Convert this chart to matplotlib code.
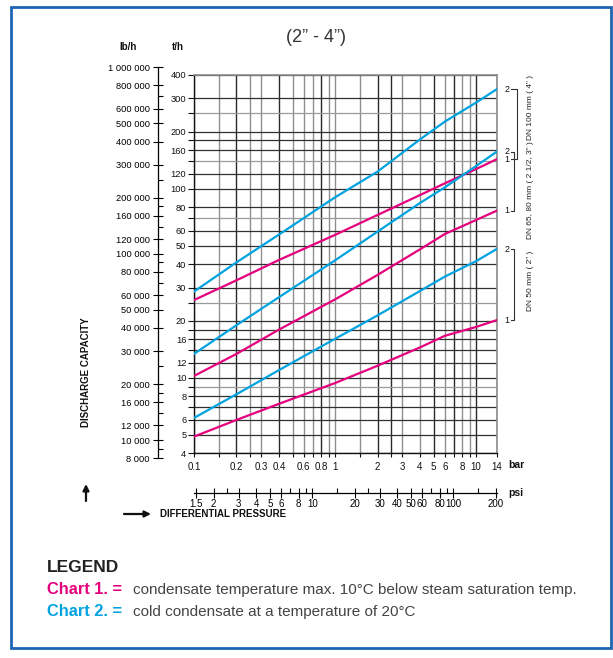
import matplotlib
matplotlib.use('Agg')
import matplotlib.pyplot as plt
from matplotlib.patches import Rectangle, FancyArrowPatch
from matplotlib.ticker import NullLocator, NullFormatter
from matplotlib.transforms import blended_transform_factory

plt.rcParams['font.family'] = ['Liberation Sans', 'DejaVu Sans']

# differential pressure (bar) where the curves were read
pressure = [0.1, 0.2, 0.4, 1, 2, 4, 6, 10, 14]
# discharge capacity (t/h); chart 2 = cold condensate, chart 1 = hot condensate
dn100_c2 = [28.6, 40.8, 57.2, 90, 123, 182, 226, 285, 335]
dn100_c1 = [25.8, 32.8, 42, 57, 72.6, 92.5, 106.7, 127, 143]
dn80_c2 = [13.4, 19.0, 26.7, 41.8, 59.3, 84, 101.6, 131.7, 156.8]
dn80_c1 = [10.25, 13.4, 18, 26, 35, 47.8, 57.6, 68.3, 76.5]
dn50_c2 = [6.15, 8.2, 11.0, 16.1, 21.4, 28.8, 34.3, 41.4, 48]
dn50_c1 = [4.9, 6.0, 7.3, 9.4, 11.6, 14.5, 16.7, 18.6, 20.2]

# grid / ticks
bar_grid = [0.1, 0.15, 0.2, 0.25, 0.3, 0.4, 0.5, 0.6, 0.7, 0.8, 0.9, 1,
            1.5, 2, 2.5, 3, 4, 5, 6, 7, 8, 9, 10, 14]
bar_labels = [0.1, 0.2, 0.3, 0.4, 0.6, 0.8, 1, 2, 3, 4, 5, 6, 8, 10, 14]
bar_dark = [0.2, 0.4, 0.8, 2, 2.5, 5, 7, 10]
th_grid = [4, 5, 6, 7, 8, 9, 10, 12, 14, 16, 18, 20, 25, 30, 40, 50, 60, 70,
           80, 100, 120, 140, 160, 180, 200, 250, 300, 400]
th_labels = [4, 5, 6, 8, 10, 12, 16, 20, 30, 40, 50, 60, 80, 100, 120, 160,
             200, 300, 400]
th_light = [9, 25, 70, 140, 250]
lb_major = [8000, 10000, 12000, 16000, 20000, 30000, 40000, 50000, 60000,
            80000, 100000, 120000, 160000, 200000, 300000, 400000, 500000,
            600000, 800000, 1000000]
lb_minor = [9000, 14000, 18000, 25000, 70000, 90000, 140000, 180000, 250000,
            700000]
psi_major = [1.5, 2, 3, 4, 5, 6, 8, 10, 20, 30, 40, 50, 60, 80, 100, 200]
psi_minor = [2.5, 7, 9, 15, 25, 70, 90, 150]
PSI_PER_BAR = 14.5038

MAGENTA = '#E5007D'
CYAN = '#00A3E0'

W, H = 613, 658
fig = plt.figure(figsize=(W / 100, H / 100), dpi=100)


def px(x, y):
    # pixel position (from top-left) -> figure fraction
    return x / W, 1 - y / H


# main chart
L, R, T, B = 194, 496.7, 74.7, 453.3
ax = fig.add_axes([L / W, 1 - B / H, (R - L) / W, (B - T) / H])
ax.set_xscale('log')
ax.set_yscale('log')
ax.set_xlim(0.1, 14)
ax.set_ylim(4, 400)

for v in bar_grid:
    c = '#2a2a2a' if v in bar_dark else '#8f8f8f'
    ax.axvline(v, color=c, lw=1.0, zorder=1)
for v in th_grid:
    c = '#9a9a9a' if v in th_light else '#303030'
    ax.axhline(v, color=c, lw=0.9, zorder=1)

for vals, col in [(dn100_c2, CYAN), (dn100_c1, MAGENTA), (dn80_c2, CYAN),
                  (dn80_c1, MAGENTA), (dn50_c2, CYAN), (dn50_c1, MAGENTA)]:
    ax.plot(pressure, vals, color=col, lw=1.6, zorder=3)

for s in ['left', 'bottom']:
    ax.spines[s].set_color('#111111')
    ax.spines[s].set_linewidth(1.0)
for s in ['top', 'right']:
    ax.spines[s].set_color('#8c8c8c')
    ax.spines[s].set_linewidth(1.2)

ax.set_yticks(th_grid)
ax.set_yticklabels([f'{v:g}' if v in th_labels else '' for v in th_grid])
ax.set_xticks(bar_grid)
ax.set_xticklabels([f'{v:g}' if v in bar_labels else '' for v in bar_grid])
ax.xaxis.set_minor_locator(NullLocator())
ax.yaxis.set_minor_locator(NullLocator())
ax.xaxis.set_minor_formatter(NullFormatter())
ax.yaxis.set_minor_formatter(NullFormatter())
ax.tick_params(axis='y', direction='out', length=4, width=0.8, pad=1.5,
               labelsize=6.7, colors='#111111')
ax.tick_params(axis='x', direction='out', length=3, width=0.8, pad=3,
               labelsize=7, colors='#111111')

# chart number brackets at the line ends
tr = blended_transform_factory(ax.transAxes, ax.transData)
brackets = [(dn100_c2[-1], dn100_c1[-1], 1.068),
            (dn80_c2[-1], dn80_c1[-1], 1.057),
            (dn50_c2[-1], dn50_c1[-1], 1.057)]
for top, bot, xv in brackets:
    ax.plot([1.046, xv, xv, 1.046], [top, top, bot, bot], transform=tr,
            color='#333333', lw=0.8, clip_on=False)
    ax.text(1.033, top, '2', transform=tr, ha='center', va='center',
            fontsize=6.5, color='#111111')
    ax.text(1.033, bot, '1', transform=tr, ha='center', va='center',
            fontsize=6.5, color='#111111')

fig.text(*px(531, 107), 'DN 100 mm ( 4" )', rotation=90, ha='center',
         va='center', fontsize=6, color='#222222')
fig.text(*px(531, 190), 'DN 65, 80 mm ( 2 1/2, 3" )', rotation=90,
         ha='center', va='center', fontsize=6, color='#222222')
fig.text(*px(531, 281), 'DN 50 mm ( 2" )', rotation=90, ha='center',
         va='center', fontsize=6, color='#222222')

# lb/h scale
axl = fig.add_axes([158 / W, 1 - 458.3 / H, 0.0001, (458.3 - 67.3) / H])
axl.set_yscale('log')
axl.set_ylim(8000, 1000000)
axl.patch.set_visible(False)
for s in ['top', 'right', 'bottom']:
    axl.spines[s].set_visible(False)
axl.spines['left'].set_linewidth(0.9)
axl.set_xticks([])
axl.set_yticks(lb_major)
axl.set_yticklabels([f'{v:,}'.replace(',', ' ') for v in lb_major])
axl.set_yticks(lb_minor, minor=True)
axl.yaxis.set_minor_formatter(NullFormatter())
axl.tick_params(which='major', direction='inout', length=7, width=0.8,
                pad=2.5, labelsize=6.7)
axl.tick_params(which='minor', direction='in', length=3.5, width=0.8)

# psi scale
axp = fig.add_axes([L / W, 1 - 492.7 / H, (R - L) / W, 0.0001])
axp.set_xscale('log')
axp.set_xlim(0.1 * PSI_PER_BAR, 14 * PSI_PER_BAR)
axp.patch.set_visible(False)
for s in ['top', 'right', 'left']:
    axp.spines[s].set_visible(False)
axp.spines['bottom'].set_linewidth(0.9)
axp.set_yticks([])
axp.set_xticks(psi_major)
axp.set_xticklabels([f'{v:g}' for v in psi_major])
axp.set_xticks(psi_minor, minor=True)
axp.xaxis.set_minor_formatter(NullFormatter())
axp.tick_params(which='major', direction='inout', length=7, width=0.8,
                pad=1, labelsize=7)
axp.tick_params(which='minor', direction='in', length=3.5, width=0.8)

# texts
fig.text(*px(316, 38), '(2\u201d - 4\u201d)', ha='center', va='center',
         fontsize=13, color='#333333')
fig.text(*px(128, 47), 'lb/h', ha='center', va='center', fontsize=7,
         fontweight='bold', color='#111111')
fig.text(*px(178, 47), 't/h', ha='center', va='center', fontsize=7,
         fontweight='bold', color='#111111')
fig.text(*px(508, 465), 'bar', ha='left', va='center', fontsize=7.5,
         fontweight='bold', color='#111111')
fig.text(*px(508, 493), 'psi', ha='left', va='center', fontsize=7.5,
         fontweight='bold', color='#111111')
fig.text(*px(86, 372), 'DISCHARGE CAPACITY', rotation=90, ha='center',
         va='center', fontsize=7, fontweight='bold', color='#111111')
fig.text(*px(160, 514), 'DIFFERENTIAL PRESSURE', ha='left', va='center',
         fontsize=7, fontweight='bold', color='#111111')
fig.add_artist(FancyArrowPatch(px(86, 501), px(86, 484),
                               transform=fig.transFigure, arrowstyle='-|>',
                               mutation_scale=9, lw=1.6, color='#111111',
                               shrinkA=0, shrinkB=0))
fig.add_artist(FancyArrowPatch(px(124, 514), px(151, 514),
                               transform=fig.transFigure, arrowstyle='-|>',
                               mutation_scale=9, lw=1.6, color='#111111',
                               shrinkA=0, shrinkB=0))

# legend block
fig.text(*px(47, 568), 'LEGEND', ha='left', va='center', fontsize=12.5,
         fontweight='bold', color='#222222')
fig.text(*px(47, 590), 'Chart 1. =', ha='left', va='center', fontsize=11.8,
         fontweight='bold', color=MAGENTA)
fig.text(*px(133, 590), 'condensate temperature max. 10\u00b0C below steam saturation temp.',
         ha='left', va='center', fontsize=11, color='#444444')
fig.text(*px(47, 612), 'Chart 2. =', ha='left', va='center', fontsize=11.8,
         fontweight='bold', color=CYAN)
fig.text(*px(133, 612), 'cold condensate at a temperature of 20\u00b0C',
         ha='left', va='center', fontsize=11, color='#444444')

# blue frame
fig.add_artist(Rectangle((11 / W, 1 - 648 / H), 600 / W, 641 / H,
                         transform=fig.transFigure, fill=False,
                         ec='#1e64b4', lw=2))

fig.savefig('out.png', dpi=100)
